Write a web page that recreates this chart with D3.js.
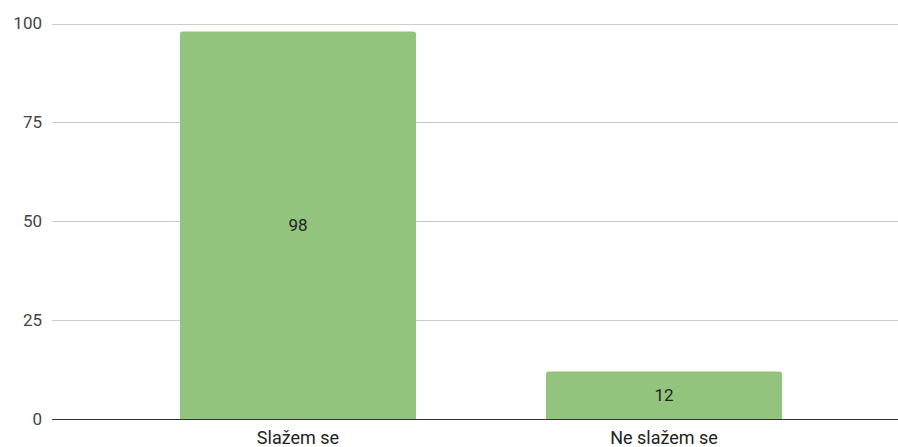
<!DOCTYPE html>
<html>
<head>
<meta charset="utf-8">
<script src="https://cdn.jsdelivr.net/npm/d3@7"></script>
<style>
  body { margin: 0; background: #fff; }
  text { font-family: Roboto, "Noto Sans", sans-serif; }
</style>
</head>
<body>
<svg></svg>
<script>
var categories = ["Slažem se", "Ne slažem se"]
var values = [98, 12]
var yTicks = [0, 25, 50, 75, 100]

var screen = {width: 898, height: 447}
var margins = {top: 23.5, right: 0, bottom: 28, left: 52}

var svg = d3.select("svg")
    .attr("width", screen.width)
    .attr("height", screen.height)

var plotBottom = screen.height - margins.bottom

var xScale = d3.scaleBand()
    .domain(categories)
    .range([115, 847])
    .paddingInner(0.355)
    .paddingOuter(0.1775)

var yScale = d3.scaleLinear()
    .domain([0, 100])
    .range([plotBottom, margins.top])

// gridlines
svg.append("g")
    .selectAll("line")
    .data(yTicks.filter(function(t){ return t != 0 }))
    .enter()
    .append("line")
    .attr("x1", margins.left)
    .attr("x2", screen.width)
    .attr("y1", function(t){ return Math.round(yScale(t)) + 0.5 })
    .attr("y2", function(t){ return Math.round(yScale(t)) + 0.5 })
    .attr("stroke", "#cccccc")
    .attr("stroke-width", 1)

// y labels
var yAxis = d3.axisLeft(yScale).tickValues(yTicks).tickSize(0).tickPadding(10)
var yg = svg.append("g")
    .attr("transform", "translate(" + margins.left + ",0)")
    .call(yAxis)
yg.select(".domain").remove()
yg.selectAll("text")
    .style("font-size", "17px")
    .style("font-family", "Roboto, sans-serif")
    .attr("fill", "#444")

// bars
svg.append("g")
    .selectAll("path")
    .data(values)
    .enter()
    .append("path")
    .attr("fill", "#93c47d")
    .attr("d", function(v, i){
        var x0 = xScale(categories[i]), w = xScale.bandwidth()
        var y0 = yScale(v), y1 = yScale(0), r = 3
        return "M" + x0 + "," + y1 +
            "V" + (y0 + r) + "Q" + x0 + "," + y0 + " " + (x0 + r) + "," + y0 +
            "H" + (x0 + w - r) + "Q" + (x0 + w) + "," + y0 + " " + (x0 + w) + "," + (y0 + r) +
            "V" + y1 + "Z"
    })

// value labels
svg.append("g")
    .selectAll("text")
    .data(values)
    .enter()
    .append("text")
    .attr("x", function(v, i){ return xScale(categories[i]) + xScale.bandwidth() / 2 })
    .attr("y", function(v){ return (yScale(v) + yScale(0)) / 2 })
    .attr("dy", "0.35em")
    .attr("text-anchor", "middle")
    .style("font-size", "17px")
    .attr("fill", "#222")
    .text(function(v){ return v })

// zero line
svg.append("line")
    .attr("x1", margins.left)
    .attr("x2", screen.width)
    .attr("y1", Math.round(yScale(0)) + 0.5)
    .attr("y2", Math.round(yScale(0)) + 0.5)
    .attr("stroke", "#333")
    .attr("stroke-width", 1)

// x labels
var xAxis = d3.axisBottom(xScale).tickSize(0).tickPadding(12)
var xg = svg.append("g")
    .attr("transform", "translate(0," + plotBottom + ")")
    .call(xAxis)
xg.select(".domain").remove()
xg.selectAll("text")
    .style("font-size", "18px")
    .style("font-family", "Roboto, sans-serif")
    .attr("fill", "#222")
</script>
</body>
</html>
